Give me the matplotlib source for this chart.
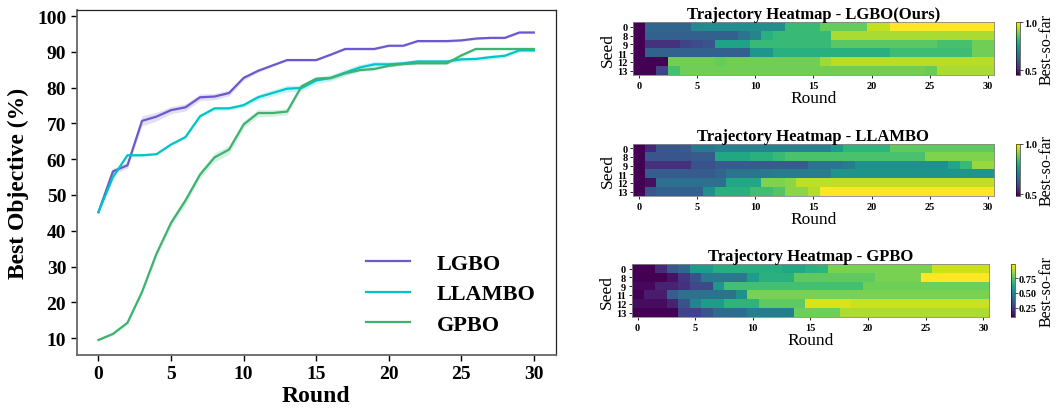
import numpy as np
import matplotlib
matplotlib.use('Agg')
import matplotlib.pyplot as plt

plt.rcParams['font.family'] = ['Liberation Serif', 'DejaVu Serif']
plt.rcParams['mathtext.fontset'] = 'stix'

rounds = np.arange(31)

# mean best objective per round (%)
lgbo_mean = [45.2, 56.6, 58.3, 70.7, 71.9, 73.7, 74.5, 77.3, 77.5, 78.5, 82.7,
             84.7, 86.2, 87.7, 87.7, 87.7, 89.2, 90.8, 90.8, 90.8, 91.7,
             91.7, 93.0, 93.0, 93.0, 93.2, 93.7, 93.9, 93.9, 95.4, 95.4]
llambo_mean = [45.2, 55.0, 61.1, 61.1, 61.4, 64.1, 66.2, 72.0, 74.2, 74.2, 75.1,
               77.3, 78.5, 79.7, 79.9, 82.0, 82.7, 84.2, 85.6, 86.5, 86.5,
               86.8, 87.3, 87.3, 87.3, 87.9, 88.0, 88.5, 88.9, 90.4, 90.4]
gpbo_mean = [9.5, 11.2, 14.3, 22.9, 33.6, 42.2, 48.5, 55.7, 60.5, 62.7, 69.7,
             72.9, 72.9, 73.3, 80.4, 82.5, 82.7, 84.0, 84.9, 85.2, 86.1,
             86.6, 86.8, 86.8, 86.8, 89.0, 90.8, 90.8, 90.8, 90.8, 90.8]

# half-width of the shaded band
lgbo_err = [0.2, 0.8, 0.8, 1.4, 1.2, 1.0, 1.0, 0.9, 0.9, 0.8, 0.6,
            0.4, 0.3, 0.3, 0.3, 0.3, 0.3, 0.3, 0.3, 0.3, 0.3,
            0.3, 0.3, 0.3, 0.3, 0.3, 0.3, 0.3, 0.3, 0.3, 0.3]
llambo_err = [0.2, 0.4, 0.3, 0.3, 0.3, 0.3, 0.3, 0.5, 0.5, 0.5, 0.6,
              0.8, 0.9, 0.9, 0.9, 0.9, 0.9, 0.9, 0.9, 0.8, 0.7,
              0.6, 0.6, 0.6, 0.6, 0.6, 0.6, 0.6, 0.6, 0.5, 0.5]
gpbo_err = [0.2, 0.3, 0.4, 0.6, 0.8, 1.0, 1.1, 1.0, 1.3, 1.2, 1.0,
            1.0, 0.9, 0.9, 0.6, 0.5, 0.5, 0.4, 0.4, 0.3, 0.3,
            0.3, 0.3, 0.3, 0.3, 0.3, 0.3, 0.3, 0.3, 0.3, 0.3]

colors = {'LGBO': '#6a5acd', 'LLAMBO': '#00c4c8', 'GPBO': '#3cb371'}

seeds = ['0', '8', '9', '11', '12', '13']

# best-so-far per seed (rows) and round (columns)
lgbo_heat = [
    [0.45] + [0.63] * 4 + [0.71] + [0.72] * 7 + [0.82] * 3 + [0.87] * 4 + [0.95] * 2 + [1.0] * 9,
    [0.45] + [0.62] * 8 + [0.66, 0.70, 0.80] + [0.82] * 5 + [0.93] * 14,
    [0.45] + [0.53] * 3 + [0.56, 0.58, 0.59] + [0.77] * 3 + [0.82] * 7 + [0.86] * 9 + [0.84] * 3 + [0.88] * 2,
    [0.45] + [0.62] * 9 + [0.74] * 2 + [0.80] * 10 + [0.83] * 7 + [0.88] * 2,
    [0.45] * 3 + [0.88] * 4 + [0.87] + [0.88] * 8 + [0.92] + [0.94] * 14,
    [0.45] * 2 + [0.56, 0.84] + [0.88] * 21 + [0.87] + [0.93] * 5,
]
llambo_heat = [
    [0.48, 0.54, 0.62, 0.62, 0.63, 0.69, 0.69] + [0.71] * 10 + [0.76] + [0.82] * 4 + [0.87] * 9,
    [0.48] + [0.62] * 4 + [0.63] * 2 + [0.79] * 3 + [0.81] * 2 + [0.83] + [0.85] * 12 + [0.90] * 6,
    [0.48] + [0.55] * 4 + [0.61] * 2 + [0.63] * 8 + [0.68] * 3 + [0.70] + [0.74] * 8 + [0.79, 0.83, 0.92, 0.92],
    [0.48] + [0.63] * 6 + [0.65] + [0.68] * 3 + [0.69] + [0.70] * 5 + [0.75] * 14,
    [0.48, 0.50] + [0.67] * 6 + [0.79] * 3 + [0.90] * 2 + [0.91] + [0.95] * 17,
    [0.48, 0.62] + [0.64] * 4 + [0.74] + [0.81] * 3 + [0.84] * 2 + [0.86] + [0.91] * 2 + [0.94] + [1.0] * 15,
]
gpbo_heat = [
    [0.09] * 2 + [0.20, 0.34, 0.39] + [0.585] * 2 + [0.65] * 6 + [0.63] * 2 + [0.66, 0.675] + [0.81] * 9 + [0.92] * 5,
    [0.09] * 3 + [0.135, 0.225, 0.315] + [0.45] * 4 + [0.585] + [0.66] * 3 + [0.765] * 7 + [0.81] * 4 + [0.99] * 6,
    [0.11] * 2 + [0.18] * 2 + [0.21] + [0.29] * 2 + [0.56] + [0.72] * 12 + [0.79] * 11,
    [0.09] + [0.16] * 2 + [0.36] + [0.43] * 5 + [0.54] + [0.81] * 21,
    [0.12] * 3 + [0.18, 0.315, 0.495] + [0.585] * 2 + [0.675] * 3 + [0.765] * 4 + [0.94] * 4 + [0.92] * 12,
    [0.09] * 4 + [0.27] * 2 + [0.33] + [0.405] * 3 + [0.47] * 4 + [0.79] * 4 + [0.88] * 13,
]

fig = plt.figure(figsize=(10.56, 4.1), dpi=100)

# ---- mean curves ----
ax = fig.add_axes([0.0726, 0.1317, 0.4536, 0.8425])
for name, mean, err in [('LGBO', lgbo_mean, lgbo_err),
                        ('LLAMBO', llambo_mean, llambo_err),
                        ('GPBO', gpbo_mean, gpbo_err)]:
    m = np.array(mean)
    e = np.array(err)
    ax.fill_between(rounds, m - e, m + e, color=colors[name], alpha=0.2, linewidth=0)
    ax.plot(rounds, m, color=colors[name], linewidth=1.6, label=name)

ax.set_xlim(-1.5, 31.5)
ax.set_ylim(5.3, 101.8)
ax.set_xticks(range(0, 31, 5))
ax.set_yticks(range(10, 101, 10))
ax.tick_params(labelsize=14, width=1.0, length=4)
for lbl in ax.get_xticklabels() + ax.get_yticklabels():
    lbl.set_fontweight('bold')
ax.set_xlabel('Round', fontsize=17, fontweight='bold', labelpad=2)
ax.set_ylabel('Best Objective (%)', fontsize=17, fontweight='bold', labelpad=6)
for side in ['left', 'bottom']:
    ax.spines[side].set_color('#666666')
    ax.spines[side].set_linewidth(1.3)
for side in ['top', 'right']:
    ax.spines[side].set_color('#222222')
    ax.spines[side].set_linewidth(0.9)
leg = ax.legend(loc='lower right', bbox_to_anchor=(1.0, 0.0), frameon=False,
                prop={'size': 16, 'weight': 'bold'}, handlelength=2.0,
                handletextpad=1.2, labelspacing=0.45)

# ---- per-seed heatmaps ----
panels = [
    ('Trajectory Heatmap - LGBO(Ours)', lgbo_heat, [0.5994, 0.8146, 0.3419, 0.1285],
     [0.9625, 0.8146, 0.0036, 0.1285], [0.5, 1.0], '{:.1f}'),
    ('Trajectory Heatmap - LLAMBO', llambo_heat, [0.5994, 0.5195, 0.3419, 0.127],
     [0.9625, 0.5195, 0.0036, 0.127], [0.5, 1.0], '{:.1f}'),
    ('Trajectory Heatmap - GPBO', gpbo_heat, [0.5983, 0.2244, 0.3383, 0.129],
     [0.9575, 0.2244, 0.0036, 0.129], [0.25, 0.5, 0.75], '{:.2f}'),
]

for title, data, rect, crect, cticks, fmt in panels:
    hax = fig.add_axes(rect)
    im = hax.imshow(np.array(data), cmap='viridis', aspect='auto',
                    interpolation='nearest')
    hax.set_title(title, fontsize=12, fontweight='bold', pad=2)
    hax.set_xticks(range(0, 31, 5))
    hax.set_yticks(range(len(seeds)))
    hax.set_yticklabels(seeds)
    hax.tick_params(labelsize=7.5, length=2.5, width=0.6, pad=1.5)
    for lbl in hax.get_xticklabels() + hax.get_yticklabels():
        lbl.set_fontweight('bold')
    hax.set_xlabel('Round', fontsize=12.5, labelpad=0)
    hax.set_ylabel('Seed', fontsize=12.5, labelpad=1)
    for sp in hax.spines.values():
        sp.set_color('#888888')
        sp.set_linewidth(0.6)

    cax = fig.add_axes(crect)
    cb = fig.colorbar(im, cax=cax, ticks=cticks)
    cb.ax.set_yticklabels([fmt.format(t) for t in cticks])
    cb.ax.tick_params(labelsize=7.5, length=2, width=0.5, pad=1)
    for lbl in cb.ax.get_yticklabels():
        lbl.set_fontweight('bold')
    cb.outline.set_linewidth(0.4)
    cb.set_label('Best-so-far', fontsize=11.5, labelpad=1)

fig.savefig('out.png', dpi=100)
